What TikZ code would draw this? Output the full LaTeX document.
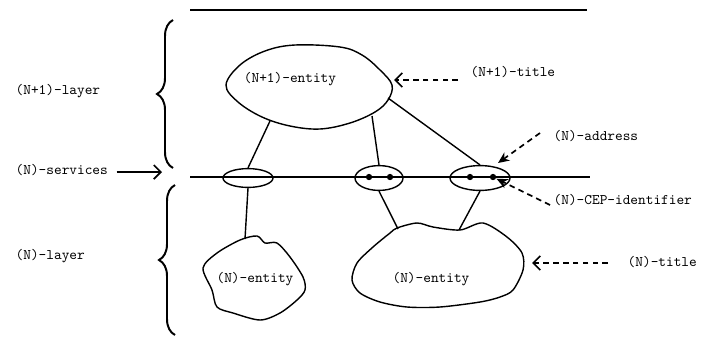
\documentclass[tikz,border=0pt]{standalone}
\usetikzlibrary{shapes.geometric, arrows, arrows.meta, decorations.pathreplacing}
\tikzset{
  lbl/.style={font=\fontsize{10.4}{12}\ttfamily, inner sep=0pt},
  sap/.style={draw, ellipse, line width=1pt, inner sep=0pt},
  cepdot/.style={circle, fill, inner sep=0pt, minimum size=4.5pt},
  blob/.style={line width=1pt, line join=round},
  layerbrace/.style={line width=1.4pt, decorate, decoration={brace, amplitude=0.4cm}},
  pointer/.style={line width=1.2pt, dash pattern=on 4pt off 3pt},
  openhead/.style={-{Straight Barb[length=5pt,width=10pt,line width=1.2pt]}},
  fullhead/.style={-{Stealth[length=8pt,width=7pt]}}
}
\begin{document}
\begin{tikzpicture}[x=0.025cm, y=-0.025cm, line width=1pt]
  \useasboundingbox (0,0) rectangle (707,344);

  \draw (190,10) -- (587,10);
  \coordinate (lineL) at (190,177);
  \coordinate (lineR) at (590,177);
  \draw (lineL) -- (lineR);

  \draw[layerbrace] (173,168) -- (173,20);
  \draw[layerbrace] (175,335) -- (175,185);

  \draw[blob] plot[smooth cycle, tension=0.6] coordinates {(226,85) (240,65) (265,51) (295,45) (340,47) (362,55) (380,70) (392,85) (388,100) (375,112) (350,123) (320,129) (290,126) (262,117) (238,102)};
  \draw[blob] plot[smooth cycle, tension=0.5] coordinates {(240,240) (257,236) (265,243) (277,243) (290,257) (303,277) (305,290) (297,300) (280,313) (260,320) (233,313) (217,307) (212,290) (203,268) (217,253)};
  \draw[blob] plot[smooth cycle, tension=0.5] coordinates {(397,228) (417,223) (433,227) (460,230) (483,223) (507,237) (522,253) (523,270) (513,290) (500,297) (480,302) (440,307) (407,307) (380,302) (360,293) (352,280) (357,263) (373,247) (390,233)};

  \coordinate (upL) at (270,121);
  \coordinate (upM) at (372,116);
  \coordinate (upR) at (388,98);
  \coordinate (upTitle) at (394,80);
  \coordinate (dnL) at (245,239);
  \coordinate (dnM) at (398,229);
  \coordinate (dnR) at (459,230);
  \coordinate (dnTitle) at (532,263);
  \coordinate (svcTip) at (162,172);
  \coordinate (addrTip) at (498,163);

  \node[sap, minimum width=1.25cm, minimum height=0.47cm] (sapL) at (248,178) {};
  \node[sap, minimum width=1.2cm, minimum height=0.62cm] (sapM) at (379,178) {};
  \node[sap, minimum width=1.5cm, minimum height=0.62cm] (sapR) at (480,178) {};
  \node[cepdot] (cepM1) at (369,177) {};
  \node[cepdot] (cepM2) at (390,177) {};
  \node[cepdot] (cepR1) at (470,177) {};
  \node[cepdot] (cepR2) at (493,177) {};

  \draw (upL) -- (sapL.north);
  \draw (upM) -- (sapM.north);
  \draw (upR) -- (sapR.north);
  \draw (sapL.south) -- (dnL);
  \draw (sapM.south) -- (dnM);
  \draw (sapR.south) -- (dnR);

  \node[lbl, anchor=west] (upLayer) at (15,91) {(N+1)-layer};
  \node[lbl, anchor=west] (services) at (15,170) {(N)-services};
  \node[lbl, anchor=west] (dnLayer) at (15,256) {(N)-layer};
  \node[lbl] (upEntity) at (290,79) {(N+1)-entity};
  \node[lbl] (dnEntityL) at (255,279) {(N)-entity};
  \node[lbl] (dnEntityR) at (431,279) {(N)-entity};
  \node[lbl, anchor=west] (upTitleLbl) at (470,72) {(N+1)-title};
  \node[lbl, anchor=west] (addrLbl) at (553,136) {(N)-address};
  \node[lbl, anchor=west] (cepLbl) at (553,200) {(N)-CEP-identifier};
  \node[lbl, anchor=west] (dnTitleLbl) at (627,262) {(N)-title};

  \draw [openhead] (services.east) ++(8,2) -- (svcTip);
  \draw [pointer,openhead] (upTitleLbl.west) ++(-12,8) -- (upTitle);
  \draw [pointer,fullhead] (addrLbl.west) ++(-13,-3) -- (addrTip);
  \draw [pointer,fullhead] (cepLbl.west) ++(-3,5) -- (cepR2);
  \draw [pointer,openhead] (dnTitleLbl.west) ++(-19,1) -- (dnTitle);
\end{tikzpicture}
\end{document}
